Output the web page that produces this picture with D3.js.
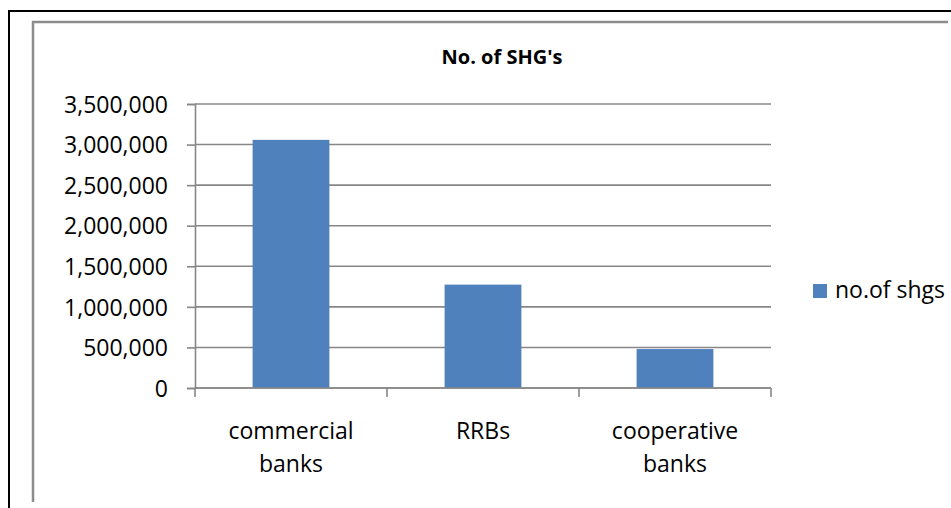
<!DOCTYPE html>
<html>
<head>
<meta charset="utf-8">
<script src="https://cdn.jsdelivr.net/npm/d3@7"></script>
<style>
  html, body { margin: 0; padding: 0; background: #fff; }
  svg { display: block; font-family: "Open Sans", sans-serif; }
</style>
</head>
<body>
<svg id="chart" width="951" height="508"></svg>
<script>
const categories = [["commercial", "banks"], ["RRBs"], ["cooperative", "banks"]];
const categoryKeys = ["commercial banks", "RRBs", "cooperative banks"];
const values = [3058000, 1274000, 480000];
const yTicks = [0, 500000, 1000000, 1500000, 2000000, 2500000, 3000000, 3500000];
const title = "No. of SHG's";
const seriesName = "no.of shgs";

const svg = d3.select("#chart");
const W = 951, H = 508;
const plot = { left: 195, right: 771, top: 104, bottom: 388 };

// outer black frame (top + left)
svg.append("path")
  .attr("d", `M9,${H} L9,11 L${W},11`)
  .attr("fill", "none").attr("stroke", "#000").attr("stroke-width", 2);
// inner gray frame (top + left)
svg.append("path")
  .attr("d", `M33,502 L33,22 L948,22`)
  .attr("fill", "none").attr("stroke", "#8c8c8c").attr("stroke-width", 2.5);

const x = d3.scaleBand().domain(categoryKeys)
  .range([plot.left, plot.right]).paddingInner(0.6).paddingOuter(0.3);
const y = d3.scaleLinear().domain([0, 3500000]).range([plot.bottom, plot.top]);

// gridlines
svg.append("g").selectAll("line").data(yTicks).join("line")
  .attr("x1", plot.left).attr("x2", plot.right)
  .attr("y1", d => y(d)).attr("y2", d => y(d))
  .attr("stroke", "#878787").attr("stroke-width", 1.6);

// y axis
const yAxis = svg.append("g").attr("transform", `translate(${plot.left},0)`)
  .call(d3.axisLeft(y).tickValues(yTicks).tickFormat(d3.format(",")).tickSize(8).tickPadding(19));
yAxis.select(".domain").attr("stroke", "#878787").attr("stroke-width", 1.6);
yAxis.selectAll(".tick line").attr("stroke", "#878787").attr("stroke-width", 1.6);
yAxis.selectAll(".tick text").attr("font-size", 23).attr("fill", "#000")
  .attr("font-family", "Open Sans, sans-serif").attr("dy", "0.36em");

// bars
svg.append("g").selectAll("rect").data(values).join("rect")
  .attr("x", (d, i) => x(categoryKeys[i]))
  .attr("width", x.bandwidth())
  .attr("y", d => y(d))
  .attr("height", d => y(0) - y(d))
  .attr("fill", "#4F81BD");

// x axis line + ticks at band boundaries
svg.append("line")
  .attr("x1", plot.left).attr("x2", plot.right)
  .attr("y1", y(0)).attr("y2", y(0))
  .attr("stroke", "#878787").attr("stroke-width", 1.6);
const boundaries = d3.range(categoryKeys.length + 1).map(i => plot.left + i * x.step());
svg.append("g").selectAll("line").data(boundaries).join("line")
  .attr("x1", d => d).attr("x2", d => d)
  .attr("y1", y(0)).attr("y2", y(0) + 9)
  .attr("stroke", "#878787").attr("stroke-width", 1.6);

// category labels
const catG = svg.append("g");
categories.forEach((lines, i) => {
  const cx = x(categoryKeys[i]) + x.bandwidth() / 2;
  const t = catG.append("text").attr("text-anchor", "middle")
    .attr("font-size", 23).attr("fill", "#000");
  lines.forEach((ln, j) => {
    t.append("tspan").attr("x", cx).attr("y", 439 + j * 33).text(ln);
  });
});

// title
svg.append("text").attr("x", 502).attr("y", 64).attr("text-anchor", "middle")
  .attr("font-size", 20).attr("font-weight", "bold").attr("fill", "#000").text(title);

// legend
svg.append("rect").attr("x", 813).attr("y", 284).attr("width", 14).attr("height", 14).attr("fill", "#4F81BD");
svg.append("text").attr("x", 835).attr("y", 298).attr("font-size", 23).attr("fill", "#000").text(seriesName);
</script>
</body>
</html>
